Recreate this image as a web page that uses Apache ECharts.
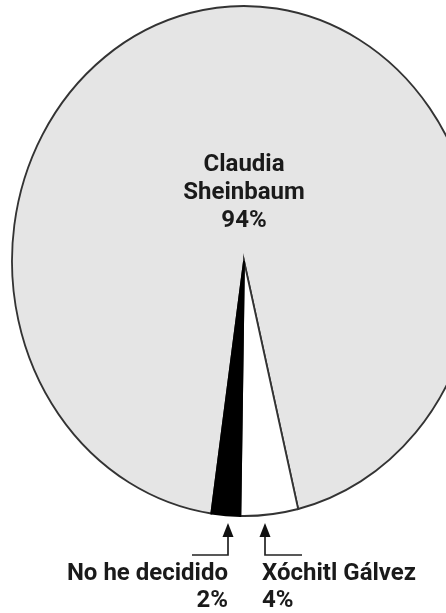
<!DOCTYPE html>
<html>
<head>
<meta charset="utf-8">
<script src="https://cdn.jsdelivr.net/npm/echarts@6/dist/echarts.min.js"></script>
<style>
  html, body { margin: 0; padding: 0; background: #fff; }
  #chart { width: 446px; height: 613px; }
</style>
</head>
<body>
<div id="chart"></div>
<script>
// data
const names = ['Claudia Sheinbaum', 'Xóchitl Gálvez', 'No he decidido'];
const values = [94, 4, 2];

// styles
const fills = ['#e5e5e5', '#ffffff', '#000000'];
const strokes = ['#333333', '#333333', '#000000'];

// the pie is drawn as an ellipse (taller than wide)
const CX = 244, CY = 261, RX = 232, RY = 255;
const START = 98.1; // degrees, clockwise from 3 o'clock
const total = values.reduce((s, v) => s + v, 0);

const labelPos = [
  { x: 244, y: 151, align: 'center', lh: 28 },
  { x: 262, y: 560, align: 'left', lh: 27 },
  { x: 228, y: 560, align: 'right', lh: 27 }
];
// callout arrows: shaft x and foot end x
const arrows = [null, { x: 265, foot: 302 }, { x: 228, foot: 192 }];
const ARROW_TOP = 523, ARROW_BEND = 555;

const chart = echarts.init(document.getElementById('chart'));

function renderItem(params, api) {
  const i = params.dataIndex;
  const before = values.slice(0, i).reduce((s, v) => s + v, 0);
  const a0 = (START + 360 * before / total) * Math.PI / 180;
  const a1 = (START + 360 * (before + api.value(0)) / total) * Math.PI / 180;

  const children = [{
    type: 'sector',
    x: CX,
    y: CY,
    scaleX: RX / RY,
    shape: { cx: 0, cy: 0, r0: 0, r: RY, startAngle: a0, endAngle: a1, clockwise: true },
    style: { fill: fills[i], stroke: strokes[i], lineWidth: 2 }
  }];

  const name = i === 0 ? names[i].replace(' ', '\n') : names[i];
  const lp = labelPos[i];
  children.push({
    type: 'text',
    x: lp.x,
    y: lp.y,
    z2: 10,
    style: {
      text: name + '\n' + values[i] + '%',
      fill: '#1a1a1a',
      fontFamily: 'Roboto, sans-serif',
      fontWeight: 'bold',
      fontSize: 24,
      lineHeight: lp.lh,
      align: lp.align,
      verticalAlign: 'top'
    }
  });

  const ar = arrows[i];
  if (ar) {
    children.push({
      type: 'polyline',
      shape: { points: [[ar.x, ARROW_TOP + 10], [ar.x, ARROW_BEND], [ar.foot, ARROW_BEND]] },
      style: { stroke: '#222', lineWidth: 1.7, fill: null }
    });
    children.push({
      type: 'polygon',
      shape: { points: [[ar.x, ARROW_TOP], [ar.x - 5.5, ARROW_TOP + 14], [ar.x + 5.5, ARROW_TOP + 14]] },
      style: { fill: '#111' }
    });
  }

  return { type: 'group', children: children };
}

chart.setOption({
  backgroundColor: '#ffffff',
  animation: false,
  series: [{
    type: 'custom',
    coordinateSystem: 'none',
    renderItem: renderItem,
    data: values.map((v, i) => ({ name: names[i], value: v }))
  }]
});
</script>
</body>
</html>
